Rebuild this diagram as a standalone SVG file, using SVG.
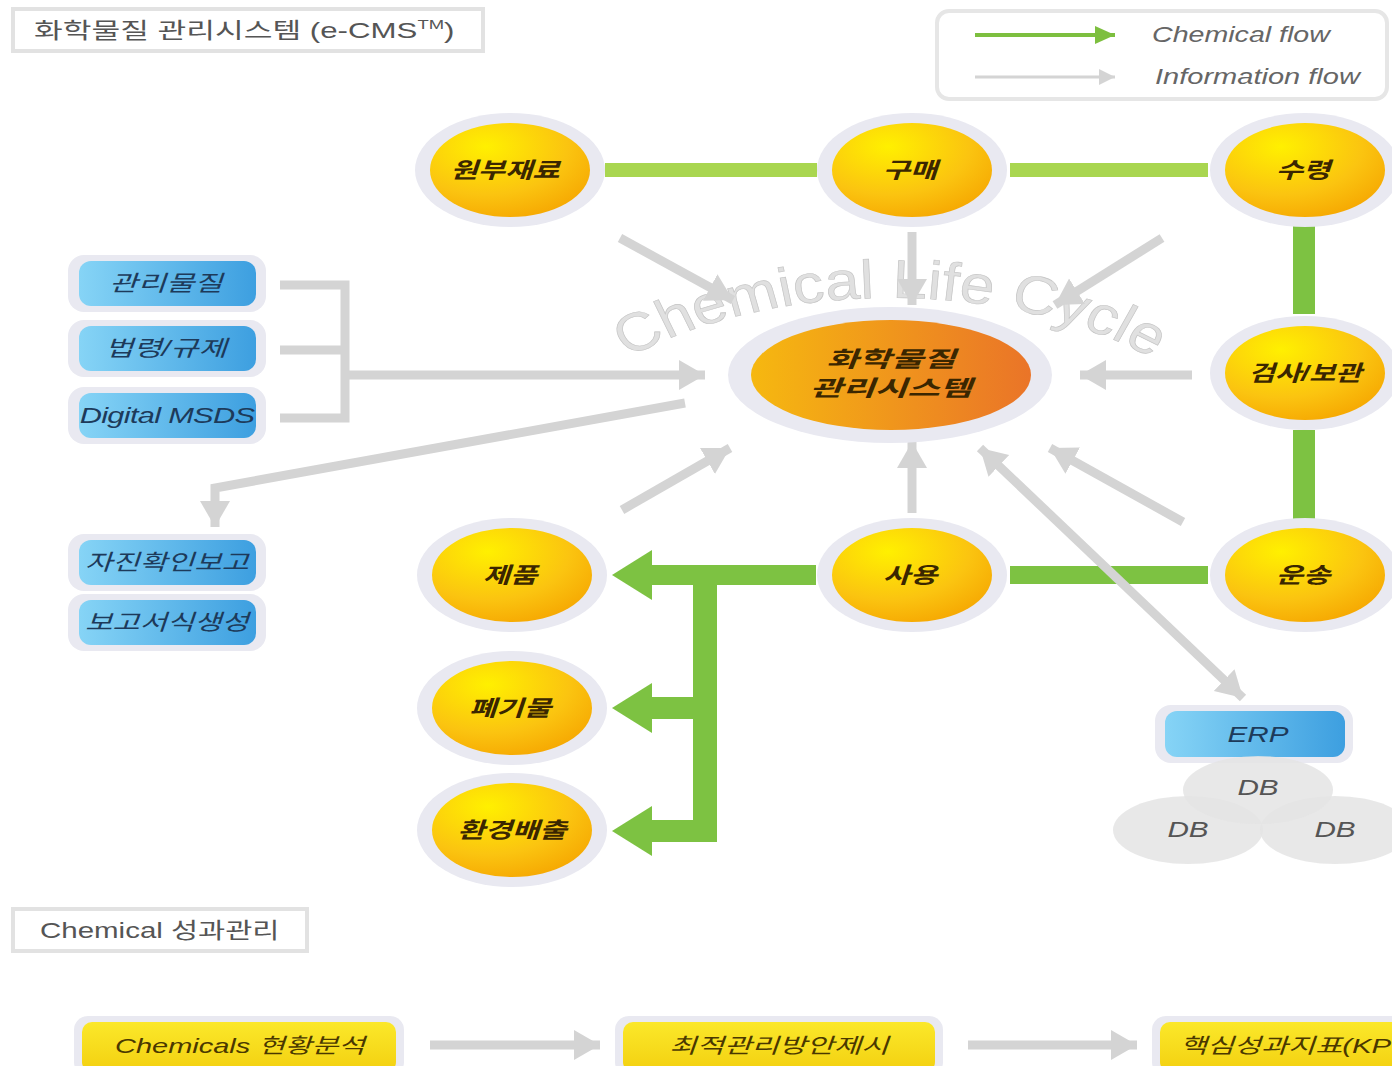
<svg xmlns="http://www.w3.org/2000/svg" width="1392" height="1066" viewBox="0 0 1392 1066">
<style>
.title{font-family:"Liberation Sans","Noto Sans CJK KR",sans-serif;font-size:22px;fill:#555}
.ntext{font-family:"Liberation Sans","Noto Sans CJK KR",sans-serif;font-size:22px;font-weight:bold;font-style:italic;fill:#3a2600;text-anchor:middle}
.btext{font-family:"Liberation Sans","Noto Sans CJK KR",sans-serif;font-size:22px;font-style:italic;fill:#1d3a5a;text-anchor:middle}
.ytext{font-family:"Liberation Sans","Noto Sans CJK KR",sans-serif;font-size:21px;font-style:italic;fill:#4a3800;text-anchor:middle}
.dbtext{font-family:"Liberation Sans",sans-serif;font-size:22px;font-style:italic;fill:#555;text-anchor:middle}
.legend{font-family:"Liberation Sans",sans-serif;font-size:22px;font-style:italic;fill:#666}
.ring{fill:#e9e9f1}
.node{fill:url(#yg)}
.box{fill:url(#bg)}
.ybox{fill:url(#ybg)}
.info{stroke:#d4d4d4;stroke-width:9;fill:none}
.green{fill:#7dc242}
.lgreen{fill:#a9d650}
.db{fill:#e4e4e4;opacity:0.85}
</style>
<defs>
<radialGradient id="yg" cx="0.35" cy="0.25" r="0.85">
<stop offset="0" stop-color="#fff000"/>
<stop offset="0.6" stop-color="#fbc410"/>
<stop offset="1" stop-color="#f5a400"/>
</radialGradient>
<linearGradient id="cg" x1="0" y1="0" x2="1" y2="0">
<stop offset="0" stop-color="#f6b810"/>
<stop offset="1" stop-color="#ea7428"/>
</linearGradient>
<linearGradient id="bg" x1="0" y1="0" x2="1" y2="0">
<stop offset="0" stop-color="#86d4f6"/>
<stop offset="1" stop-color="#3d9fe0"/>
</linearGradient>
<linearGradient id="ybg" x1="0" y1="0" x2="0" y2="1">
<stop offset="0" stop-color="#fbe82a"/>
<stop offset="1" stop-color="#f3d010"/>
</linearGradient>
<marker id="ah" markerUnits="userSpaceOnUse" markerWidth="34" markerHeight="34" refX="26" refY="17" orient="auto">
<path d="M0,2 L26,17 L0,32 Z" fill="#d4d4d4"/>
</marker>
<marker id="ahs" markerUnits="userSpaceOnUse" markerWidth="34" markerHeight="34" refX="26" refY="17" orient="auto-start-reverse">
<path d="M0,2 L26,17 L0,32 Z" fill="#d4d4d4"/>
</marker>
<marker id="ahl" markerUnits="userSpaceOnUse" markerWidth="20" markerHeight="20" refX="16" refY="10" orient="auto">
<path d="M0,2 L16,10 L0,18 Z" fill="#d4d4d4"/>
</marker>
<marker id="ahg" markerUnits="userSpaceOnUse" markerWidth="24" markerHeight="24" refX="20" refY="12" orient="auto">
<path d="M0,3 L20,12 L0,21 Z" fill="#7dbf3f"/>
</marker>
<path id="arc" d="M 609 400 A 339 232 0 0 1 1171 400"/>
</defs>

<g id="title">
<rect x="13" y="9" width="470" height="42" fill="#fff" stroke="#e2e2e2" stroke-width="4"/>
<text class="title" transform="translate(34,38) scale(1.42,1)">화학물질 관리시스템 (e-CMS<tspan font-size="13" dy="-9">TM</tspan><tspan dy="9">)</tspan></text>
</g>

<g id="legend">
<rect x="937" y="11" width="450" height="88" rx="12" fill="#fff" stroke="#e6e6e6" stroke-width="4"/>
<line x1="975" y1="35" x2="1115" y2="35" stroke="#7dbf3f" stroke-width="4" marker-end="url(#ahg)"/>
<line x1="975" y1="77" x2="1115" y2="77" stroke="#d4d4d4" stroke-width="3" marker-end="url(#ahl)"/>
<text class="legend" transform="translate(1152,42) scale(1.3,1)">Chemical flow</text>
<text class="legend" transform="translate(1155,84) scale(1.32,1)">Information flow</text>
</g>

<g id="lifecycle-label" transform="translate(890,0) scale(1.15,1) translate(-890,0)">
<text font-family="Liberation Sans, sans-serif" font-size="54" fill="#e0e0e0" stroke="#c4c4c4" stroke-width="0.6"><textPath href="#arc" startOffset="68">Chemical Life Cycle</textPath></text>
</g>

<g id="connectors">
<rect class="lgreen" x="605" y="163" width="212" height="14"/>
<rect class="lgreen" x="1010" y="163" width="198" height="14"/>
<rect class="green" x="1293" y="226" width="22" height="88"/>
<rect class="green" x="1293" y="430" width="22" height="90"/>
<rect class="green" x="1010" y="566" width="198" height="18"/>
<rect class="green" x="648" y="565" width="168" height="20"/>
<polygon class="green" points="612,575 652,550 652,600"/>
<rect class="green" x="693" y="575" width="24" height="267"/>
<rect class="green" x="648" y="697" width="50" height="22"/>
<polygon class="green" points="612,708 652,683 652,733"/>
<rect class="green" x="648" y="820" width="69" height="22"/>
<polygon class="green" points="612,831 652,806 652,856"/>
<line class="info" x1="620" y1="238" x2="733" y2="300" marker-end="url(#ah)"/>
<line class="info" x1="912" y1="232" x2="912" y2="305" marker-end="url(#ah)"/>
<line class="info" x1="1162" y1="238" x2="1055" y2="305" marker-end="url(#ah)"/>
<line class="info" x1="1192" y1="375" x2="1080" y2="375" marker-end="url(#ah)"/>
<polyline class="info" points="280,285 345,285 345,418 280,418"/>
<line class="info" x1="280" y1="350" x2="345" y2="350"/>
<line class="info" x1="345" y1="375" x2="705" y2="375" marker-end="url(#ah)"/>
<polyline class="info" points="685,403 215,488 215,527" marker-end="url(#ah)"/>
<line class="info" x1="622" y1="510" x2="730" y2="448" marker-end="url(#ah)"/>
<line class="info" x1="912" y1="513" x2="912" y2="442" marker-end="url(#ah)"/>
<line class="info" x1="980" y1="448" x2="1243" y2="698" marker-start="url(#ahs)" marker-end="url(#ah)"/>
<line class="info" x1="1183" y1="522" x2="1050" y2="448" marker-end="url(#ah)"/>
<line class="info" x1="430" y1="1045" x2="600" y2="1045" marker-end="url(#ah)"/>
<line class="info" x1="968" y1="1045" x2="1137" y2="1045" marker-end="url(#ah)"/>
</g>

<g id="center">
<ellipse class="ring" cx="890" cy="375" rx="162" ry="68"/>
<ellipse cx="891" cy="375" rx="140" ry="55" fill="url(#cg)"/>
<text class="ntext" font-size="20" transform="translate(891,367) scale(1.6,1)">화학물질</text>
<text class="ntext" font-size="20" transform="translate(891,396) scale(1.6,1)">관리시스템</text>
</g>

<g id="n-raw"><ellipse class="ring" cx="510" cy="170" rx="95" ry="57"/><ellipse class="node" cx="510" cy="170" rx="80" ry="47"/><text class="ntext" transform="translate(505,178) scale(1.35,1)">원부재료</text></g>
<g id="n-buy"><ellipse class="ring" cx="912" cy="170" rx="95" ry="57"/><ellipse class="node" cx="912" cy="170" rx="80" ry="47"/><text class="ntext" transform="translate(910,178) scale(1.35,1)">구매</text></g>
<g id="n-recv"><ellipse class="ring" cx="1305" cy="170" rx="95" ry="57"/><ellipse class="node" cx="1305" cy="170" rx="80" ry="47"/><text class="ntext" transform="translate(1303,178) scale(1.35,1)">수령</text></g>
<g id="n-insp"><ellipse class="ring" cx="1305" cy="373" rx="95" ry="57"/><ellipse class="node" cx="1305" cy="373" rx="80" ry="47"/><text class="ntext" transform="translate(1305,381) scale(1.3,1)">검사/보관</text></g>
<g id="n-trans"><ellipse class="ring" cx="1305" cy="575" rx="95" ry="57"/><ellipse class="node" cx="1305" cy="575" rx="80" ry="47"/><text class="ntext" transform="translate(1303,583) scale(1.35,1)">운송</text></g>
<g id="n-use"><ellipse class="ring" cx="912" cy="575" rx="95" ry="57"/><ellipse class="node" cx="912" cy="575" rx="80" ry="47"/><text class="ntext" transform="translate(910,583) scale(1.35,1)">사용</text></g>
<g id="n-prod"><ellipse class="ring" cx="512" cy="575" rx="95" ry="57"/><ellipse class="node" cx="512" cy="575" rx="80" ry="47"/><text class="ntext" transform="translate(510,583) scale(1.35,1)">제품</text></g>
<g id="n-waste"><ellipse class="ring" cx="512" cy="708" rx="95" ry="57"/><ellipse class="node" cx="512" cy="708" rx="80" ry="47"/><text class="ntext" transform="translate(510,716) scale(1.35,1)">폐기물</text></g>
<g id="n-emis"><ellipse class="ring" cx="512" cy="830" rx="95" ry="57"/><ellipse class="node" cx="512" cy="830" rx="80" ry="47"/><text class="ntext" transform="translate(512,838) scale(1.35,1)">환경배출</text></g>

<g id="b-manage"><rect class="ring" x="68" y="255" width="198" height="57" rx="16"/><rect class="box" x="79" y="261" width="177" height="45" rx="12"/><text class="btext" transform="translate(166,291) scale(1.4,1)">관리물질</text></g>
<g id="b-law"><rect class="ring" x="68" y="320" width="198" height="57" rx="16"/><rect class="box" x="79" y="326" width="177" height="45" rx="12"/><text class="btext" transform="translate(166,356) scale(1.4,1)">법령/규제</text></g>
<g id="b-msds"><rect class="ring" x="68" y="387" width="198" height="57" rx="16"/><rect class="box" x="79" y="393" width="177" height="45" rx="12"/><text class="btext" transform="translate(167,423) scale(1.4,1)" letter-spacing="-0.5">Digital MSDS</text></g>
<g id="b-self"><rect class="ring" x="68" y="534" width="198" height="57" rx="16"/><rect class="box" x="79" y="540" width="177" height="45" rx="12"/><text class="btext" transform="translate(167,570) scale(1.35,1)">자진확인보고</text></g>
<g id="b-form"><rect class="ring" x="68" y="594" width="198" height="57" rx="16"/><rect class="box" x="79" y="600" width="177" height="45" rx="12"/><text class="btext" transform="translate(167,630) scale(1.35,1)">보고서식생성</text></g>

<g id="erp"><rect class="ring" x="1155" y="705" width="198" height="58" rx="16"/><rect class="box" x="1165" y="711" width="180" height="46" rx="12"/><text class="btext" transform="translate(1258,742) scale(1.35,1)">ERP</text></g>
<g id="db">
<ellipse class="db" cx="1188" cy="830" rx="75" ry="34"/>
<ellipse class="db" cx="1335" cy="830" rx="75" ry="34"/>
<ellipse class="db" cx="1258" cy="790" rx="75" ry="34"/>
<text class="dbtext" transform="translate(1258,795) scale(1.35,1)">DB</text>
<text class="dbtext" transform="translate(1188,837) scale(1.35,1)">DB</text>
<text class="dbtext" transform="translate(1335,837) scale(1.35,1)">DB</text>
</g>

<g id="perf-title">
<rect x="13" y="909" width="294" height="42" fill="#fff" stroke="#e2e2e2" stroke-width="4"/>
<text class="title" font-size="21" transform="translate(40,938) scale(1.34,1)">Chemical 성과관리</text>
</g>

<g id="y-analysis"><rect class="ring" x="74" y="1016" width="330" height="60" rx="14"/><rect class="ybox" x="82" y="1022" width="314" height="50" rx="10"/><text class="ytext" transform="translate(240,1053) scale(1.38,1)">Chemicals 현황분석</text></g>
<g id="y-plan"><rect class="ring" x="615" y="1016" width="328" height="60" rx="14"/><rect class="ybox" x="623" y="1022" width="312" height="50" rx="10"/><text class="ytext" transform="translate(779,1053) scale(1.42,1)">최적관리방안제시</text></g>
<g id="y-kpi"><rect class="ring" x="1152" y="1016" width="300" height="60" rx="14"/><rect class="ybox" x="1160" y="1022" width="290" height="50" rx="10"/><text class="ytext" style="text-anchor:start" transform="translate(1180,1053) scale(1.4,1)">핵심성과지표(KPI)</text></g>
</svg>
